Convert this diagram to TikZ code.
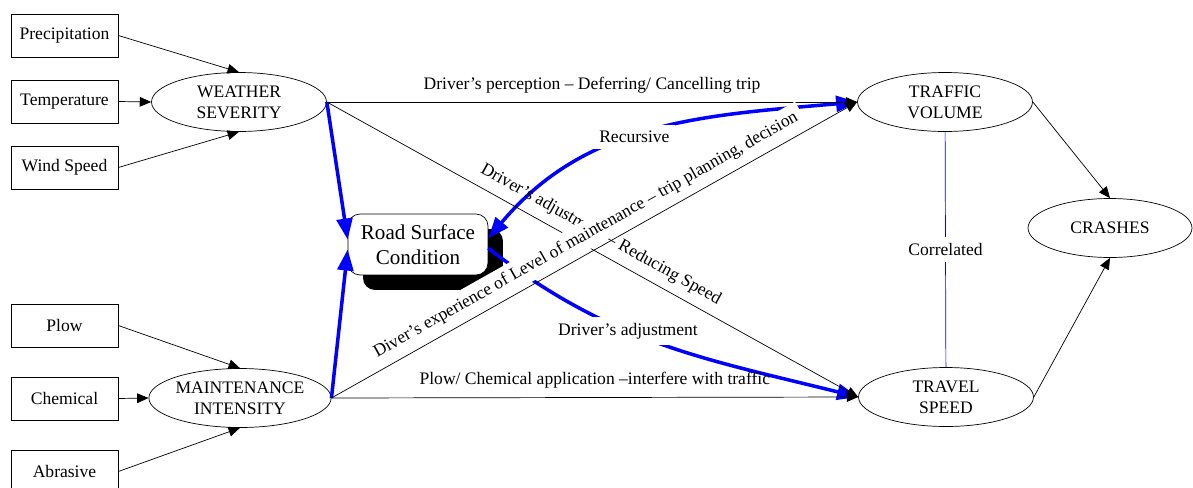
\documentclass[tikz,border=0pt]{standalone}
\usepackage{fontspec}
\setmainfont{Liberation Serif}
\usetikzlibrary{arrows.meta,shapes.geometric,shadows}

\begin{document}
\begin{tikzpicture}[x=0.02cm,y=-0.02cm,
  factor/.style={draw,minimum width=2.14cm,minimum height=0.86cm,inner sep=0pt},
  latent/.style={draw,ellipse,minimum width=3.5cm,minimum height=1.18cm,inner sep=0pt,align=center},
  arr/.style={-{Triangle[length=6.5pt,width=5.5pt]}},
  bluearr/.style={blue,line width=2pt,-{Triangle[length=12pt,width=9pt]}},
  bluetip/.style={{Triangle[length=12pt,width=9pt]}-{Triangle[length=12pt,width=9pt]}},
  wlabel/.style={fill=white,text=black}]
  \useasboundingbox (0,0) rectangle (1193,487);
  \foreach \n/\y/\t in {precip/35.5/Precipitation,temp/101.5/Temperature,wind/167.5/Wind Speed,plow/325.5/Plow,chem/398.5/Chemical,abras/471.5/Abrasive}{
  	\node[factor] (\n) at (64.5,\y) {\t};
	}
  \node[latent] (weather) at (239,102) {WEATHER\\SEVERITY};
  \node[latent] (maint) at (240,398) {MAINTENANCE\\INTENSITY};
  \node[latent] (traffic) at (945,102) {TRAFFIC\\VOLUME};
  \node[latent] (travel) at (946,397) {TRAVEL\\SPEED};
  \node[latent,minimum width=3.28cm] (crashes) at (1110,228) {CRASHES};
  \node[draw,fill=white,rounded corners=0.24cm,minimum width=2.8cm,minimum height=1.22cm,align=center,font=\large,
    general shadow={fill=black,shadow xshift=0.3cm,shadow yshift=-0.3cm}] (road) at (418,244.5) {Road Surface\\Condition};
  \foreach \n/\a in {precip/north,temp/west,wind/south}{
  	\draw[arr] (\n.east) -- (weather.\a);
	}
  \foreach \n/\a in {plow/north,chem/west,abras/south}{
  	\draw[arr] (\n.east) -- (maint.\a);
	}
  \draw[bluearr] (weather.east) -- (road.176);
  \draw[bluearr] (maint.east) -- (road.184);
  \draw[bluearr,bluetip] (traffic.west) to[out=185,in=50] node[pos=.55,wlabel] {Recursive} (road.5);
  \draw[bluearr] (road.-3) to[out=-38,in=166] node[pos=.4,wlabel] {Driver’s adjustment} (travel.west);
  \draw[arr] (weather.east) -- node[above=1.5pt] {Driver’s perception -- Deferring/ Cancelling trip} (traffic.west);
  \draw[arr] (weather.east) -- node[sloped,above=1.5pt] {Driver’s adjustment -- Reducing Speed} (travel.west);
  \draw[arr] (maint.east) -- node[sloped,above=1.5pt,fill=white] {Diver’s experience of Level of maintenance -- trip planning, decision} (traffic.west);
  \draw[arr] (maint.east) -- node[above=1.5pt] {Plow/ Chemical application --interfere with traffic} (travel.west);
  \draw[blue] (traffic) -- node[wlabel] {Correlated} (travel);
  \draw[arr] (traffic.east) -- (crashes.north);
  \draw[arr] (travel.east) -- (crashes.south);
%\draw[blue] (road.east) -- (travel.west);
\end{tikzpicture}
\end{document}
